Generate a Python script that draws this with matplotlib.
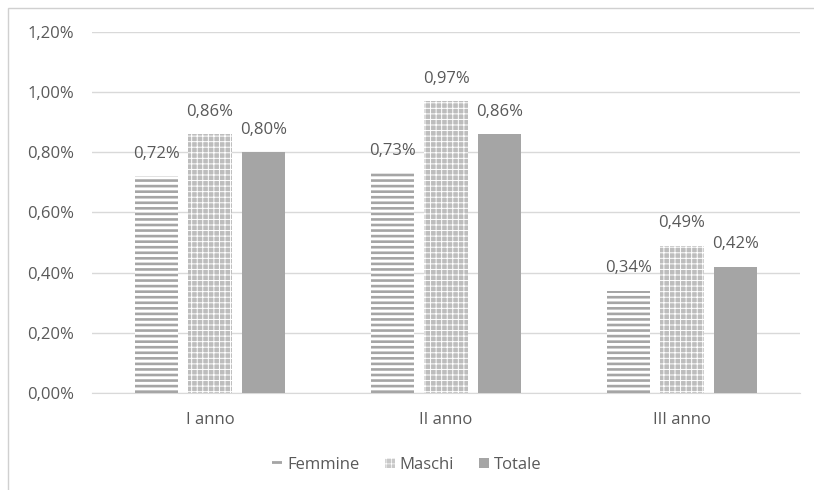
import matplotlib
matplotlib.use("Agg")
import matplotlib.pyplot as plt
import numpy as np
from matplotlib.patches import Rectangle, Patch
from matplotlib.ticker import FuncFormatter

plt.rcParams['font.family'] = ['Open Sans', 'DejaVu Sans']

categories = ["I anno", "II anno", "III anno"]
series_names = ["Femmine", "Maschi", "Totale"]
femmine = [0.72, 0.73, 0.34]
maschi = [0.86, 0.97, 0.49]
totale = [0.80, 0.86, 0.42]
yticks = [0.0, 0.2, 0.4, 0.6, 0.8, 1.0, 1.2]

text_col = '#595959'
grid_col = '#d9d9d9'
fs = 12

fig = plt.figure(figsize=(8.14, 4.90), dpi=100)
fig.patches.append(Rectangle((8/814, -0.1), 1.2, 1 - 8/490 + 0.1, transform=fig.transFigure,
                             fill=False, edgecolor='#d0d0d0', linewidth=1.0, zorder=0))
ax = fig.add_axes([92/814, 1 - 393/490, (800-92)/814, (393-32)/490])

x = np.arange(len(categories))
w = 0.183
step = 0.226

def fmt(v):
    return f"{v:.2f}".replace('.', ',') + '%'

# Femmine: white with gray horizontal stripes
plt.rcParams['hatch.linewidth'] = 1.9
ax.bar(x - step, femmine, w, facecolor='white', edgecolor='#a5a5a5', linewidth=0,
       hatch='---', zorder=3)
# Maschi: gray with fine white crosses
ax.bar(x, maschi, w, facecolor='#bdbdbd', edgecolor='none', linewidth=0, zorder=3)
plt.rcParams['hatch.linewidth'] = 0.7
ax.bar(x, maschi, w, facecolor='none', edgecolor='white', linewidth=0, hatch='+++', zorder=4)
# Totale: solid gray
ax.bar(x + step, totale, w, facecolor='#a5a5a5', edgecolor='none', zorder=3)

for xs, vals in [(x - step, femmine), (x, maschi), (x + step, totale)]:
    for xi, v in zip(xs, vals):
        ax.annotate(fmt(v), (xi, v), xytext=(0, 16), textcoords='offset points',
                    ha='center', va='center', fontsize=fs, color=text_col, zorder=5)

ax.set_ylim(0, 1.2)
ax.set_xlim(-0.5, 2.5)
ax.set_yticks(yticks)
ax.yaxis.set_major_formatter(FuncFormatter(lambda v, p: fmt(v)))
ax.set_xticks(x)
ax.set_xticklabels(categories)
ax.tick_params(axis='both', length=0, colors=text_col, labelsize=fs)
ax.tick_params(axis='y', pad=13)
ax.tick_params(axis='x', pad=14)
ax.grid(axis='y', color=grid_col, linewidth=1, zorder=0)
ax.set_axisbelow(True)
for s in ['top', 'right', 'left']:
    ax.spines[s].set_visible(False)
ax.spines['bottom'].set_color(grid_col)

h1 = Patch(facecolor='white', edgecolor='#a5a5a5', hatch='--', linewidth=0)
h2 = Patch(facecolor='#c8c8c8', edgecolor='white', hatch='+++', linewidth=0)
h3 = Patch(facecolor='#a5a5a5', edgecolor='none')
leg = fig.legend([h1, h2, h3], series_names, loc='center', bbox_to_anchor=(0.5, 1 - 465/490),
                 ncol=3, frameon=False, fontsize=fs, labelcolor=text_col, handlelength=0.6,
                 handleheight=0.6, handletextpad=0.3, columnspacing=1.5)
lp = leg.get_patches()
if hasattr(lp[0], 'set_hatch_linewidth'):
    lp[0].set_hatch_linewidth(2.0)
    lp[1].set_hatch_linewidth(0.5)

fig.savefig('out.png', dpi=100)
